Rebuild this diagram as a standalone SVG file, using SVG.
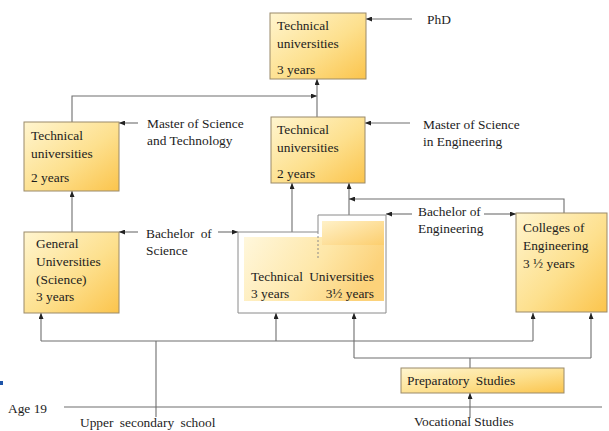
<svg xmlns="http://www.w3.org/2000/svg" width="609" height="431" viewBox="0 0 609 431">
<style>
.box{stroke:#9a8a6a;stroke-width:1;fill:url(#g)}
.t{font-size:13.4px;fill:#1c1c1c}
.w{word-spacing:3px}
.c{fill:none;stroke:#6e6e6e;stroke-width:1.1}
.a{marker-end:url(#ar)}
</style>
<defs>
<linearGradient id="g" x1="0" y1="0" x2="1" y2="1">
<stop offset="0" stop-color="#fff5cf"/>
<stop offset="0.55" stop-color="#fde08e"/>
<stop offset="1" stop-color="#fbc44c"/>
</linearGradient>
<linearGradient id="gh" x1="0" y1="0" x2="1" y2="0.3">
<stop offset="0" stop-color="#fff7dc"/>
<stop offset="0.6" stop-color="#fee7a8"/>
<stop offset="1" stop-color="#fcd27a"/>
</linearGradient>
<linearGradient id="gs" x1="0" y1="0" x2="1" y2="1">
<stop offset="0" stop-color="#fff1c8"/>
<stop offset="1" stop-color="#fcce6e"/>
</linearGradient>
<marker id="ar" markerUnits="userSpaceOnUse" markerWidth="6" markerHeight="5" refX="6" refY="2.5" orient="auto">
<path d="M0,0 L6,2.5 L0,5 z" fill="#222"/>
</marker>
</defs>

<rect x="0" y="381" width="3" height="4" fill="#1f55a8"/>

<g id="connectors">
<line class="c a" x1="412" y1="19" x2="366" y2="19"/>
<path class="c a" d="M72,122 V96 H317"/>
<line class="c a" x1="317" y1="117" x2="317" y2="79"/>
<line class="c a" x1="138" y1="123" x2="119" y2="123"/>
<line class="c a" x1="410" y1="123" x2="365" y2="123"/>
<line class="c a" x1="72" y1="232" x2="72" y2="191"/>
<line class="c a" x1="138" y1="232" x2="119" y2="232"/>
<line class="c a" x1="218" y1="232" x2="238" y2="232"/>
<line class="c a" x1="292" y1="232" x2="292" y2="183"/>
<line class="c a" x1="349" y1="215" x2="349" y2="183"/>
<path class="c a" d="M564,213 V199 H349"/>
<line class="c a" x1="412" y1="214" x2="386" y2="214"/>
<line class="c a" x1="484" y1="214" x2="516" y2="214"/>
<line class="c" x1="156" y1="417" x2="156" y2="341"/>
<line class="c" x1="41" y1="341" x2="533" y2="341"/>
<line class="c a" x1="41" y1="341" x2="41" y2="313"/>
<line class="c a" x1="276" y1="341" x2="276" y2="313"/>
<line class="c a" x1="533" y1="341" x2="533" y2="313"/>
<line class="c" x1="470" y1="368" x2="470" y2="358"/>
<line class="c" x1="354" y1="358" x2="591" y2="358"/>
<line class="c a" x1="354" y1="358" x2="354" y2="313"/>
<line class="c a" x1="591" y1="358" x2="591" y2="313"/>
<line class="c a" x1="470" y1="418" x2="470" y2="393"/>
<line class="c" x1="64" y1="407" x2="602" y2="407"/>
</g>

<g font-family="'Liberation Serif', 'Times New Roman', serif">
<g id="phd">
<rect class="box" x="270" y="13" width="96" height="66"/>
<text class="t" x="277" y="30">Technical</text>
<text class="t" x="277" y="48">universities</text>
<text class="t" x="277" y="74">3 years</text>
</g>
<text class="t" x="427" y="24">PhD</text>

<g id="msc-tech">
<rect class="box" x="24" y="122" width="95" height="69"/>
<text class="t" x="31" y="140">Technical</text>
<text class="t" x="31" y="158">universities</text>
<text class="t" x="31" y="182">2 years</text>
</g>
<text class="t" x="147" y="128">Master of Science</text>
<text class="t" x="147" y="145">and Technology</text>

<g id="msc-eng">
<rect class="box" x="271" y="117" width="94" height="66"/>
<text class="t" x="277" y="134">Technical</text>
<text class="t" x="277" y="152">universities</text>
<text class="t" x="277" y="178">2 years</text>
</g>
<text class="t" x="423" y="129">Master of Science</text>
<text class="t" x="423" y="146">in Engineering</text>

<g id="general-univ">
<rect class="box" x="24" y="232" width="95" height="81"/>
<text class="t" x="36" y="248">General</text>
<text class="t" x="36" y="266">Universities</text>
<text class="t" x="36" y="284">(Science)</text>
<text class="t" x="36" y="301">3 years</text>
</g>
<text class="t w" x="146" y="238">Bachelor of</text>
<text class="t" x="146" y="255">Science</text>

<g id="tech-univ">
<path d="M238,313 V232 H318 V215 H386 V313 Z" fill="#fff" stroke="#8a8a8a" stroke-width="1"/>
<rect x="244" y="237" width="140" height="64" fill="url(#gh)"/>
<rect x="322" y="221" width="62" height="24" fill="url(#gs)"/>
<line x1="318" y1="232" x2="318" y2="258" stroke="#8a8a8a" stroke-width="1" stroke-dasharray="2,2"/>
<text class="t w" x="251" y="281">Technical Universities</text>
<text class="t" x="251" y="298">3 years</text>
<text class="t" x="374" y="298" text-anchor="end">3½ years</text>
</g>
<text class="t" x="418" y="216">Bachelor of</text>
<text class="t" x="418" y="233">Engineering</text>

<g id="colleges">
<rect class="box" x="516" y="213" width="91" height="99"/>
<text class="t" x="523" y="232">Colleges of</text>
<text class="t" x="523" y="250">Engineering</text>
<text class="t" x="523" y="268">3 ½ years</text>
</g>

<g id="preparatory">
<rect class="box" x="401" y="368" width="163" height="25"/>
<text class="t w" x="407" y="385">Preparatory Studies</text>
</g>

<text class="t" x="8" y="413">Age 19</text>
<text class="t w" x="80" y="427">Upper secondary school</text>
<text class="t" x="414" y="426">Vocational Studies</text>
</g>
</svg>
